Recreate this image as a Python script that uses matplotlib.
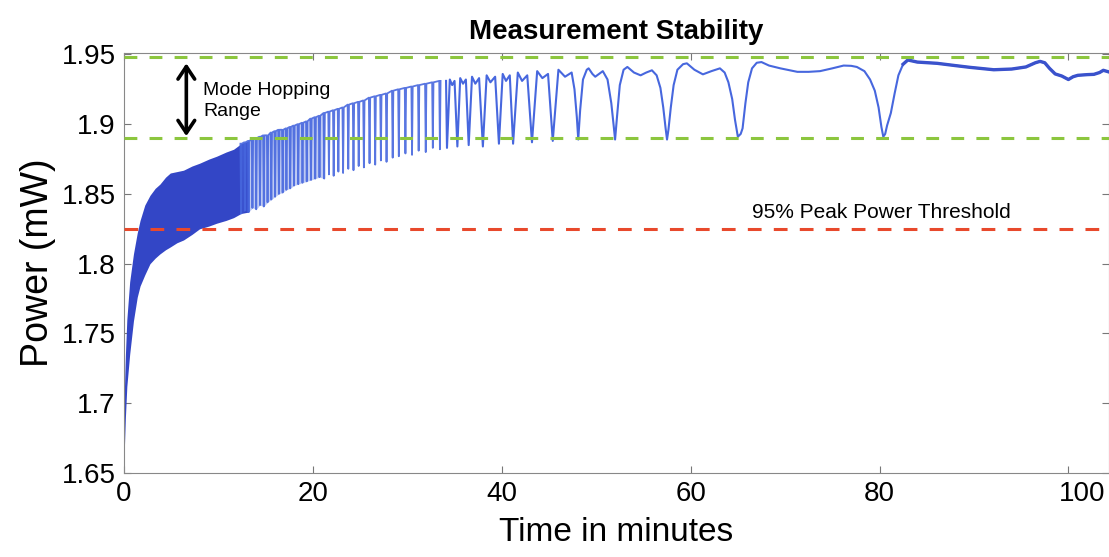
import matplotlib
matplotlib.use("Agg")
import matplotlib.pyplot as plt
from matplotlib.transforms import ScaledTranslation

plt.rcParams['font.family'] = ['Liberation Sans', 'DejaVu Sans']

# ---------------- data ----------------
# dense warm-up band (0 - 13 min): upper / lower envelope
env_t = [0.0, 0.15, 0.3, 0.6, 1.0, 1.4, 1.7, 2.2, 2.75, 3.3, 3.8, 4.4, 4.9, 5.6,
         6.3, 7.2, 8.0, 9.0, 9.8, 10.8, 11.6, 12.4, 13.2]
env_hi = [1.700, 1.735, 1.760, 1.787, 1.807, 1.822, 1.831, 1.842, 1.849, 1.854,
          1.857, 1.862, 1.865, 1.866, 1.867, 1.870, 1.872, 1.875, 1.877, 1.880,
          1.882, 1.886, 1.888]
env_lo = [1.660, 1.690, 1.712, 1.735, 1.759, 1.776, 1.784, 1.792, 1.800, 1.804,
          1.807, 1.810, 1.812, 1.815, 1.817, 1.821, 1.825, 1.827, 1.829, 1.831,
          1.833, 1.836, 1.837]

# mode-hop spikes (time of dip, dip level, plateau level)
spike_t = [12.4, 12.8, 13.2, 13.6, 14.0, 14.4, 14.8, 15.2, 15.6, 16.0, 16.4, 16.8,
           17.2, 17.6, 18.0, 18.45, 18.9, 19.35, 19.8, 20.25, 20.7, 21.2, 21.7,
           22.2, 22.7, 23.2, 23.75, 24.3, 24.85, 25.4, 26.0, 26.6, 27.2, 27.8,
           28.45, 29.1, 29.8, 30.5, 31.2, 31.95, 32.7, 33.45]
spike_low = [1.836, 1.838, 1.837, 1.840, 1.839, 1.842, 1.841, 1.844, 1.846, 1.848,
             1.850, 1.851, 1.853, 1.854, 1.856, 1.857, 1.858, 1.859, 1.860, 1.861,
             1.862, 1.861, 1.864, 1.863, 1.866, 1.865, 1.868, 1.867, 1.870, 1.869,
             1.872, 1.871, 1.874, 1.873, 1.876, 1.877, 1.879, 1.878, 1.881, 1.880,
             1.883, 1.882]
spike_top = [1.886, 1.887, 1.888, 1.889, 1.890, 1.891, 1.892, 1.892, 1.894, 1.895,
             1.896, 1.896, 1.897, 1.898, 1.899, 1.900, 1.901, 1.902, 1.904, 1.905,
             1.906, 1.908, 1.909, 1.910, 1.911, 1.912, 1.914, 1.915, 1.916, 1.917,
             1.919, 1.920, 1.921, 1.922, 1.924, 1.925, 1.926, 1.927, 1.928, 1.929,
             1.930, 1.931]

# resolved trace after ~34 min (time, power)
tail_points = [
    (34.1, 1.931), (34.2, 1.883), (34.5, 1.932), (34.75, 1.928), (35.0, 1.931),
    (35.3, 1.884), (35.6, 1.933), (35.9, 1.929), (36.2, 1.932),
    (36.5, 1.885), (36.85, 1.934), (37.2, 1.929), (37.6, 1.933),
    (38.0, 1.884), (38.4, 1.935), (38.8, 1.930), (39.3, 1.934),
    (39.7, 1.886), (40.1, 1.936), (40.45, 1.931), (40.85, 1.935),
    (41.2, 1.886), (41.7, 1.937), (42.15, 1.931), (42.7, 1.935),
    (43.2, 1.887), (43.75, 1.938), (44.3, 1.933), (44.9, 1.936),
    (45.4, 1.888), (46.0, 1.939), (46.7, 1.934), (47.4, 1.937), (47.7, 1.925),
    (47.95, 1.905), (48.1, 1.889), (48.3, 1.910), (48.6, 1.932), (49.0, 1.939),
    (49.2, 1.940), (49.6, 1.936), (49.9, 1.934), (50.3, 1.936), (50.7, 1.938),
    (51.2, 1.932), (51.6, 1.915), (51.85, 1.899),
    (52.0, 1.889), (52.2, 1.905), (52.5, 1.928), (52.9, 1.939), (53.3, 1.941),
    (54.0, 1.937), (54.7, 1.935), (55.3, 1.937), (55.9, 1.9386), (56.4, 1.935),
    (56.8, 1.926), (57.1, 1.912), (57.35, 1.897),
    (57.5, 1.889), (57.65, 1.896), (57.9, 1.912), (58.2, 1.928), (58.6, 1.939),
    (59.2, 1.943), (59.6, 1.9436), (60.4, 1.939), (61.3, 1.9357), (62.2, 1.938),
    (63.1, 1.940), (63.6, 1.937), (64.0, 1.930), (64.4, 1.918), (64.7, 1.903),
    (65.0, 1.891), (65.3, 1.893), (65.5, 1.897), (65.8, 1.915), (66.1, 1.930),
    (66.5, 1.940), (67.0, 1.944), (67.5, 1.9445), (68.3, 1.942), (69.5, 1.940),
    (71.3, 1.9375), (72.5, 1.9375), (73.7, 1.938), (75.0, 1.940), (76.2, 1.942),
    (77.0, 1.9418), (77.6, 1.941), (78.4, 1.938), (79.0, 1.932), (79.5, 1.924),
    (79.9, 1.912), (80.2, 1.898),
    (80.4, 1.891), (80.6, 1.893), (80.8, 1.899), (81.2, 1.908), (81.6, 1.922),
    (82.0, 1.935), (82.5, 1.943), (83.0, 1.946), (84.0, 1.9445), (86.1, 1.9436),
    (88.0, 1.942), (89.6, 1.9407), (92.1, 1.939), (94.0, 1.9395), (95.5, 1.941),
    (96.5, 1.944), (97.0, 1.945), (97.5, 1.944), (98.0, 1.940), (98.6, 1.936),
    (99.3, 1.9345), (100.0, 1.932), (100.5, 1.934), (101.0, 1.935),
    (102.0, 1.9355), (102.7, 1.9357), (103.3, 1.937), (103.7, 1.9386),
    (104.5, 1.937),
]

mode_hop_upper = 1.948
mode_hop_lower = 1.890
threshold_95 = 1.825

x_ticks = [0, 20, 40, 60, 80, 100]
y_ticks = [1.65, 1.70, 1.75, 1.80, 1.85, 1.90, 1.95]
y_tick_labels = ['1.65', '1.7', '1.75', '1.8', '1.85', '1.9', '1.95']

# ---------------- drawing ----------------
W, H = 1109, 557
fig = plt.figure(figsize=(W / 100, H / 100), dpi=100)
ax = fig.add_axes([124 / W, 84 / H, (W - 124) / W, (473 - 53) / H])

dense_col = '#3346c6'
line_col = '#4767de'

ax.fill_between(env_t, env_lo, env_hi, color=dense_col, lw=0, zorder=2)
# light haze between the dense spikes
ax.fill_between(spike_t[:22], spike_low[:22], spike_top[:22], color=line_col,
                alpha=0.35, lw=0, zorder=2)

w = 0.07
sx, sy = [], []
for t, lo, hi in zip(spike_t, spike_low, spike_top):
    sx += [t - w, t, t + w]
    sy += [hi, lo, hi]
ax.plot(sx, sy, color=line_col, lw=1.3, alpha=0.9, zorder=3)

tx = [p[0] for p in tail_points]
ty = [p[1] for p in tail_points]
ax.plot(tx, ty, color=line_col, lw=1.5, zorder=3, solid_joinstyle='round')
ax.plot([p[0] for p in tail_points if p[0] >= 82.5],
        [p[1] for p in tail_points if p[0] >= 82.5],
        color='#3a52cc', lw=2.4, zorder=3, solid_joinstyle='round')

green = '#8cc63e'
red = '#e8492c'
ax.axhline(mode_hop_upper, color=green, lw=2.2, ls=(0, (4.2, 4.0)), zorder=4)
ax.axhline(mode_hop_lower, color=green, lw=2.2, ls=(0, (4.2, 4.0)), zorder=4)
ax.axhline(threshold_95, color=red, lw=2.2, ls=(0, (4.5, 4.0)), zorder=4)

ax.annotate('', xy=(6.6, 1.8914), xytext=(6.6, 1.9436),
            arrowprops=dict(arrowstyle='<->, head_length=0.45, head_width=0.3',
                            color='black', lw=2.6, mutation_scale=20,
                            shrinkA=0, shrinkB=0), zorder=5)
ax.text(8.4, 1.9165, 'Mode Hopping\nRange', fontsize=14, ha='left', va='center',
        linespacing=1.3, zorder=5)
ax.text(80.2, 1.837, '95% Peak Power Threshold', fontsize=15, ha='center',
        va='center', zorder=5)

ax.set_xlim(0, 104.3)
ax.set_ylim(1.65, 1.951)
ax.set_xticks(x_ticks)
ax.set_xticklabels([str(v) for v in x_ticks])
ax.set_yticks(y_ticks)
ax.set_yticklabels(y_tick_labels)
ax.tick_params(direction='in', length=5, width=0.8, color='#777777',
               labelsize=20, top=True, right=True, pad=6)
for s in ax.spines.values():
    s.set_color('#888888')
    s.set_linewidth(0.8)

last = ax.get_xticklabels()[-1]
last.set_transform(last.get_transform() + ScaledTranslation(0.14, 0, fig.dpi_scale_trans))

ax.set_xlabel('Time in minutes', fontsize=24, labelpad=7)
ax.set_ylabel('Power (mW)', fontsize=27, labelpad=4)
ax.set_title('Measurement Stability', fontsize=20, fontweight='bold', pad=10)

fig.savefig('out.png', dpi=100)
